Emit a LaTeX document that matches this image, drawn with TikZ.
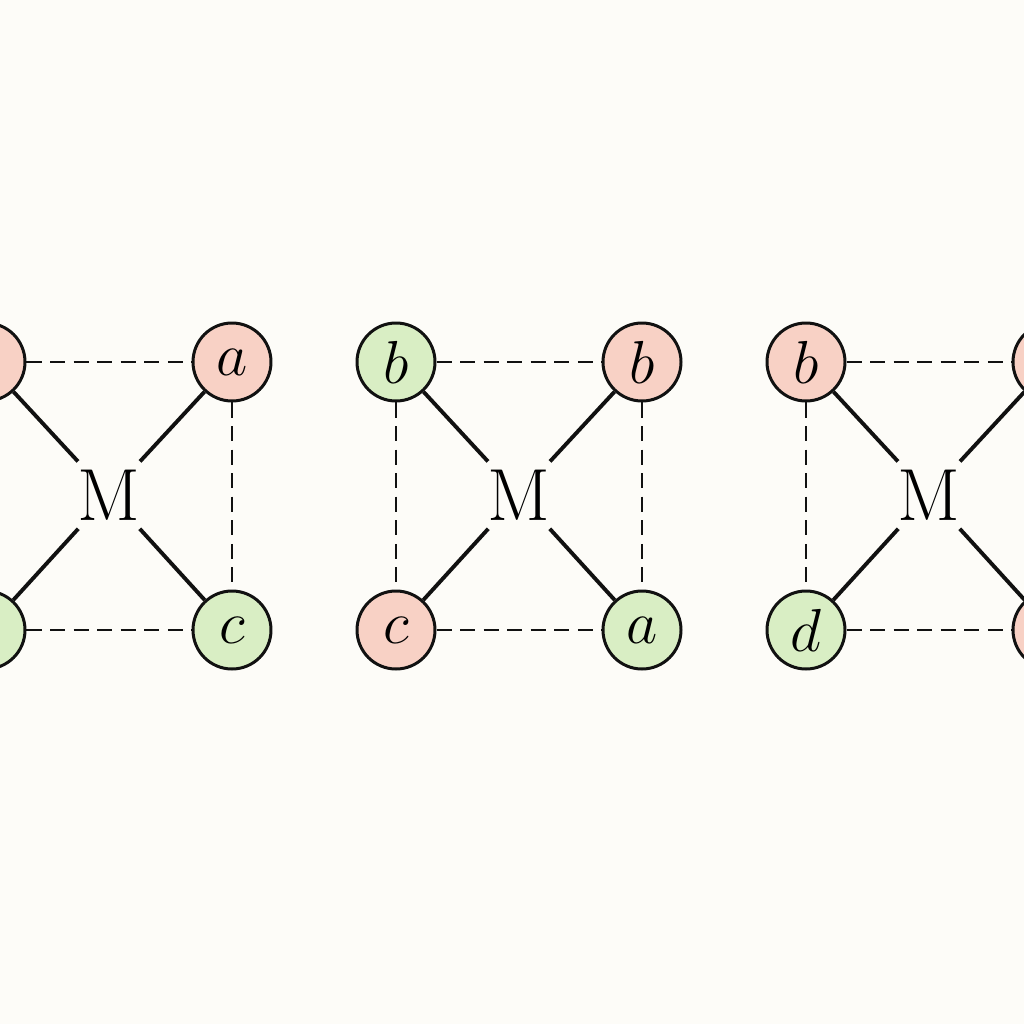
\documentclass[tikz,border=0pt]{standalone}
\definecolor{paper}{HTML}{FDFCF8}
\definecolor{rose}{HTML}{F8D1C5}
\definecolor{mint}{HTML}{D9EEC4}
\definecolor{ink}{HTML}{111111}
\tikzset{
  vtx/.style={circle,draw=ink,line width=.85pt,minimum size=7.8mm,inner sep=0pt,font=\fontsize{16}{16}\selectfont},
  hub/.style={circle,minimum size=9mm,inner sep=0pt,font=\fontsize{21}{21}\selectfont},
  link/.style={draw=ink,line width=1.1pt},
  pair/.style={draw=ink,line width=.75pt,dash pattern=on 4.3pt off 2.4pt}
}
\begin{document}
\begin{tikzpicture}[x=.1mm,y=-.1mm]
  \fill[paper](0,0)rectangle(1024,1024);
  \clip(0,0)rectangle(1024,1024);
  \def\w{246}
  % three squares, labels then fill colours
  \foreach \g/\x/\lA/\lB/\lC/\lD/\cA/\cB/\cC/\cD in{1/-14//$a$//$c$/rose/rose/mint/mint,
      2/396/$b$/$b$/$c$/$a$/mint/rose/rose/mint,
      3/806/$b$//$d$//rose/rose/mint/rose}{
    \node[vtx,fill=\cA](tl\g)at(\x,362){\lA};
    \node[vtx,fill=\cB](tr\g)at(\x+\w,362){\lB};
    \node[vtx,fill=\cC](bl\g)at(\x,630){\lC};
    \node[vtx,fill=\cD](br\g)at(\x+\w,630){\lD};
    \node[hub](m\g)at(\x+\w/2,495){M};
    \foreach \v in{tl,tr,bl,br}
      \draw[link](\v\g)--(m\g);
    \draw[pair](tl\g)--(tr\g);
    \draw[pair](bl\g)--(br\g);
    \draw[pair](tl\g)--(bl\g);
    \draw[pair](tr\g)--(br\g);
  }
\end{tikzpicture}
\end{document}
